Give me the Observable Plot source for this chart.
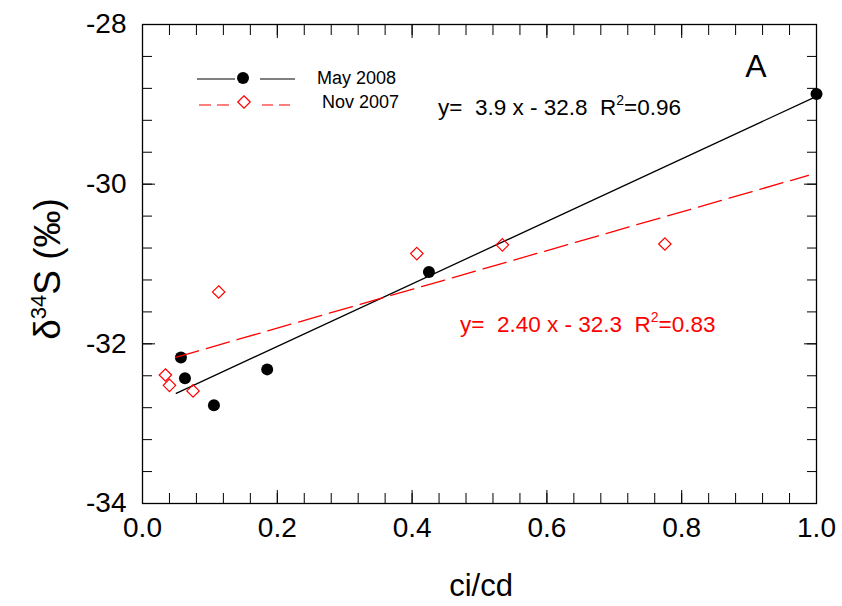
<!DOCTYPE html>
<html><head><meta charset="utf-8">
<script src="https://cdn.jsdelivr.net/npm/d3@7"></script>
<script src="https://cdn.jsdelivr.net/npm/@observablehq/plot@0.6"></script>
<style>body{margin:0;background:#fff} svg{display:block}</style>
</head><body><div id="chart"></div>
<script>
// May 2008 (filled circles)
const mayX = [0.057, 0.063, 0.106, 0.185, 0.425, 1.0];
const mayY = [-32.17, -32.43, -32.77, -32.32, -31.10, -28.87];
// Nov 2007 (open diamonds)
const novX = [0.034, 0.040, 0.075, 0.113, 0.407, 0.534, 0.775];
const novY = [-32.39, -32.52, -32.59, -31.35, -30.87, -30.76, -30.75];
// regression line end points
const mayFitX = [0.050, 1.0];
const mayFitY = [-32.62, -28.90];
const novFitX = [0.049, 0.988];
const novFitY = [-32.17, -29.89];
// ticks
const xTicks = [0, 0.2, 0.4, 0.6, 0.8, 1.0];
const xTickLabels = ["0.0", "0.2", "0.4", "0.6", "0.8", "1.0"];
const yTicks = [-34, -32, -30, -28];
const yTickLabels = ["-34", "-32", "-30", "-28"];
const xMinor = d3.range(0, 1.0001, 0.04).map(v => +v.toFixed(2));
const yMinor = d3.range(-34, -27.999, 0.4).map(v => +v.toFixed(1));
// texts
const seriesNames = ["May 2008", "Nov 2007"];
const mayEq = ["y=  3.9 x - 32.8  R", "2", "=0.96"];
const novEq = ["y=  2.40 x - 32.3  R", "2", "=0.83"];
const panelLabel = "A";
const xLabel = "ci/cd";

const FONT = "Liberation Sans, Arial, sans-serif";
const may = mayX.map((x, i) => ({x, y: mayY[i]}));
const nov = novX.map((x, i) => ({x, y: novY[i]}));
const mayFit = mayFitX.map((x, i) => ({x, y: mayFitY[i]}));
const novFit = novFitX.map((x, i) => ({x, y: novFitY[i]}));

const MAJ = 13, MIN = 10;
const chart = Plot.plot({
  width: 842, height: 606,
  marginLeft: 142, marginRight: 26, marginTop: 24, marginBottom: 103,
  style: {fontFamily: FONT, background: "white", color: "black"},
  x: {domain: [0, 1], label: null},
  y: {domain: [-34, -28], label: null},
  marks: [
    // inward ticks on all four sides
    Plot.axisY({anchor: "left", ticks: yMinor, tickSize: MIN, dx: MIN, text: null, label: null}),
    Plot.axisY({anchor: "left", ticks: yTicks, tickSize: MAJ, dx: MAJ, text: null, label: null}),
    Plot.axisY({anchor: "right", ticks: yMinor, tickSize: MIN, dx: -MIN, text: null, label: null}),
    Plot.axisY({anchor: "right", ticks: yTicks, tickSize: MAJ, dx: -MAJ, text: null, label: null}),
    Plot.axisX({anchor: "bottom", ticks: xMinor, tickSize: MIN, dy: -MIN, text: null, label: null}),
    Plot.axisX({anchor: "bottom", ticks: xTicks, tickSize: MAJ, dy: -MAJ, text: null, label: null}),
    Plot.axisX({anchor: "top", ticks: xMinor, tickSize: MIN, dy: MIN, text: null, label: null}),
    Plot.axisX({anchor: "top", ticks: xTicks, tickSize: MAJ, dy: MAJ, text: null, label: null}),
    // tick labels
    Plot.axisY({anchor: "left", ticks: yTicks, tickSize: 0, tickPadding: 16, fontSize: 28,
      tickFormat: d => yTickLabels[yTicks.indexOf(d)], label: null}),
    Plot.axisX({anchor: "bottom", ticks: xTicks, tickSize: 0, tickPadding: 14, fontSize: 28,
      tickFormat: d => xTickLabels[xTicks.indexOf(d)], label: null}),
    Plot.frame({stroke: "black", strokeWidth: 1.3}),
    Plot.dot(may, {x: "x", y: "y", r: 6, fill: "black", stroke: "none"}),
    Plot.line(mayFit, {x: "x", y: "y", stroke: "black", strokeWidth: 1.3}),
    Plot.line(novFit, {x: "x", y: "y", stroke: "#ff0000", strokeWidth: 1.3, strokeDasharray: "24,8"}),
    Plot.dot(nov, {x: "x", y: "y", symbol: "diamond2", r: 5.6, stroke: "#ff0000", fill: "none", strokeWidth: 1.2})
  ]
});

const svg = d3.select(chart);

// axis titles
svg.append("text").attr("x", 481).attr("y", 596).attr("text-anchor", "middle")
  .attr("font-family", FONT).attr("font-size", 31).attr("fill", "black").text(xLabel);
const yl = svg.append("text").attr("transform", "translate(60,269) rotate(-90)")
  .attr("text-anchor", "middle").attr("font-family", FONT).attr("font-size", 37).attr("fill", "black");
yl.append("tspan").text("δ");
yl.append("tspan").attr("dy", -14).attr("font-size", 22).text("34");
yl.append("tspan").attr("dy", 14).text("S (‰)");

// panel label
svg.append("text").attr("x", 756).attr("y", 77).attr("text-anchor", "middle")
  .attr("font-family", FONT).attr("font-size", 32).attr("fill", "black").text(panelLabel);

// equations
function eq(x, y, parts, color) {
  const t = svg.append("text").attr("x", x).attr("y", y).attr("font-family", FONT)
    .attr("text-anchor", "start")
    .attr("font-size", 22.5).attr("fill", color).attr("xml:space", "preserve").style("white-space", "pre");
  t.append("tspan").text(parts[0]);
  t.append("tspan").attr("dy", -10).attr("font-size", 14).text(parts[1]);
  t.append("tspan").attr("dy", 10).text(parts[2]);
}
eq(438, 115, mayEq, "black");
eq(460, 332, novEq, "#ff0000");

// legend
const lg = svg.append("g").attr("font-family", FONT).attr("font-size", 18).attr("text-anchor", "start");
lg.append("line").attr("x1", 197).attr("x2", 235).attr("y1", 79).attr("y2", 79).attr("stroke", "black").attr("stroke-width", 1.2);
lg.append("line").attr("x1", 260).attr("x2", 295).attr("y1", 79).attr("y2", 79).attr("stroke", "black").attr("stroke-width", 1.2);
lg.append("circle").attr("cx", 243).attr("cy", 78).attr("r", 6).attr("fill", "black");
lg.append("text").attr("x", 317).attr("y", 84).attr("fill", "black").text(seriesNames[0]);
lg.append("line").attr("x1", 199).attr("x2", 229).attr("y1", 105).attr("y2", 105).attr("stroke", "#ff0000").attr("stroke-width", 1.2).attr("stroke-dasharray", "12,6");
lg.append("line").attr("x1", 262).attr("x2", 290).attr("y1", 105).attr("y2", 105).attr("stroke", "#ff0000").attr("stroke-width", 1.2).attr("stroke-dasharray", "11,6");
lg.append("path").attr("transform", "translate(244,102)").attr("d", d3.symbol(d3.symbolDiamond2, Math.PI * 5.6 * 5.6)())
  .attr("fill", "none").attr("stroke", "#ff0000").attr("stroke-width", 1.2);
lg.append("text").attr("x", 322).attr("y", 108).attr("fill", "black").text(seriesNames[1]);

document.getElementById("chart").append(chart);
</script>
</body></html>
